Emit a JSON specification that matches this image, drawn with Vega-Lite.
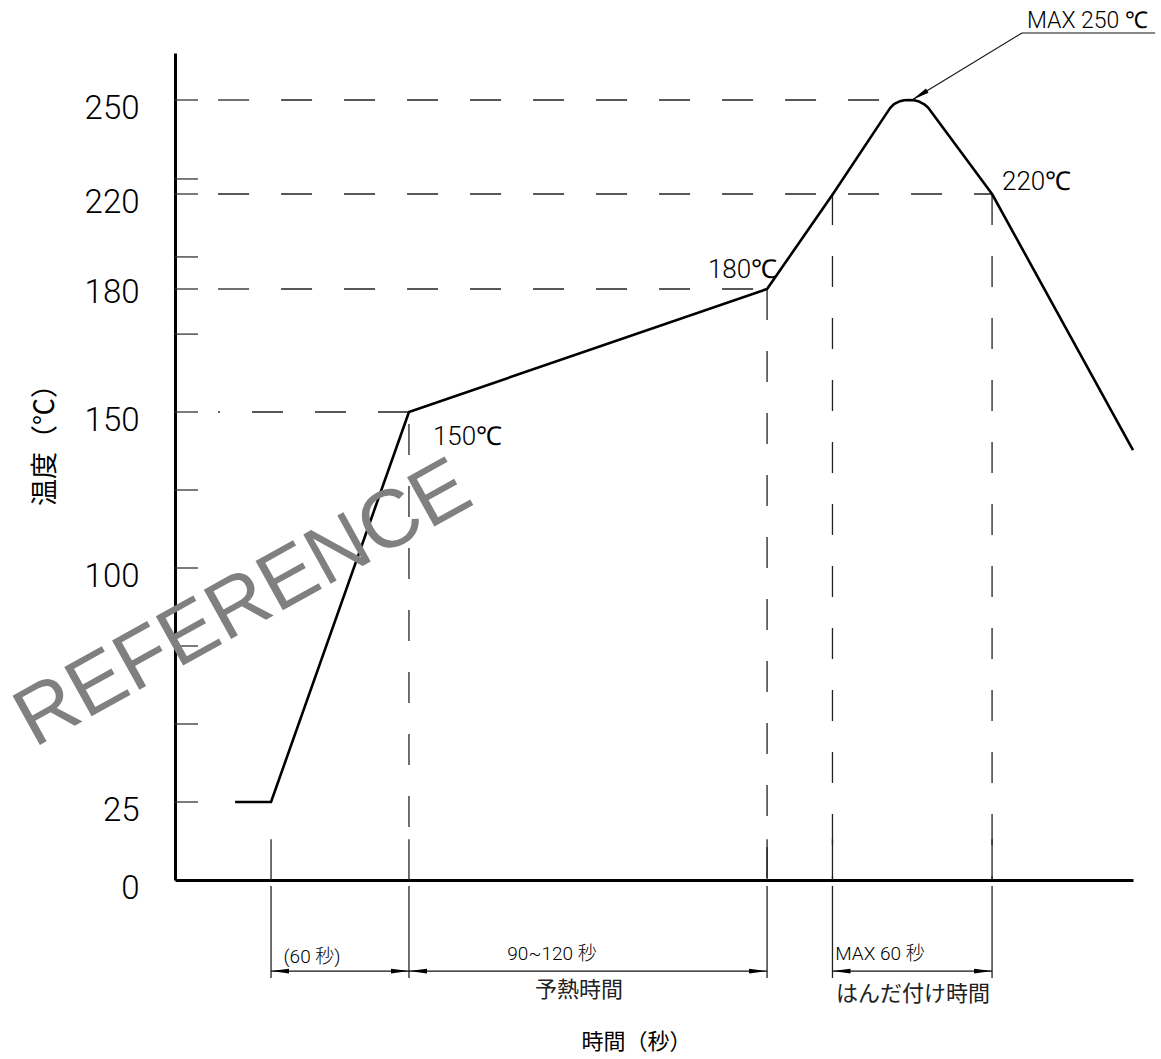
{
  "$schema": "https://vega.github.io/schema/vega-lite/v6.json",
  "autosize": "none",
  "width": 958,
  "height": 827,
  "padding": {"left": 175, "top": 53, "right": 28, "bottom": 179},
  "background": "white",
  "config": {"view": {"stroke": null}},
  "datasets": {
    "profile": [
      {"t": 26.1, "T": 25}, {"t": 41.7, "T": 25}, {"t": 101.6, "T": 150}, {"t": 257.1, "T": 180},
      {"t": 285.7, "T": 220}, {"t": 310.5, "T": 247.4}, {"t": 312.2, "T": 248.7}, {"t": 314.4, "T": 249.5},
      {"t": 316.6, "T": 249.9}, {"t": 318.7, "T": 250}, {"t": 320.9, "T": 249.9}, {"t": 323.1, "T": 249.5},
      {"t": 325.2, "T": 248.7}, {"t": 327.0, "T": 247.6}, {"t": 354.8, "T": 220}, {"t": 416.0, "T": 137.8}
    ],
    "hdash": [
      {"t": 18.7, "t2": 318.7, "T": 250},
      {"t": 18.7, "t2": 354.8, "T": 220},
      {"t": 18.7, "t2": 257.1, "T": 180},
      {"t": 101.6, "t2": 18.7, "T": 150}
    ],
    "vdash": [
      {"t": 101.6, "T": 17.0, "T2": 150},
      {"t": 257.1, "T": 180, "T2": 0},
      {"t": 285.5, "T": 220, "T2": 0},
      {"t": 354.8, "T": 220, "T2": 0}
    ],
    "ext": [
      {"t": 41.7, "T": 13.1, "T2": 0}, {"t": 101.6, "T": 13.1, "T2": 0}, {"t": 257.1, "T": 13.1, "T2": 0},
      {"t": 285.5, "T": 13.1, "T2": 0}, {"t": 354.8, "T": 13.1, "T2": 0},
      {"t": 41.7, "T": -1.9, "T2": -31.4}, {"t": 101.6, "T": -1.9, "T2": -31.4}, {"t": 257.1, "T": -1.9, "T2": -31.4},
      {"t": 285.5, "T": -1.9, "T2": -31.4}, {"t": 354.8, "T": -1.9, "T2": -31.4}
    ],
    "dim": [
      {"t": 41.7, "t2": 101.6, "T": -29.2},
      {"t": 101.6, "t2": 257.1, "T": -29.2},
      {"t": 285.5, "t2": 354.8, "T": -29.2}
    ],
    "arrows": [
      {"t": 41.7, "T": -29.2, "dir": "L"}, {"t": 101.6, "T": -29.2, "dir": "R"},
      {"t": 101.6, "T": -29.2, "dir": "L"}, {"t": 257.1, "T": -29.2, "dir": "R"},
      {"t": 285.5, "T": -29.2, "dir": "L"}, {"t": 354.8, "T": -29.2, "dir": "R"}
    ],
    "minor": [
      {"T": 25, "t": 0, "t2": 10}, {"T": 50, "t": 0, "t2": 10}, {"T": 75, "t": 0, "t2": 10},
      {"T": 100, "t": 0, "t2": 10}, {"T": 125, "t": 0, "t2": 10}, {"T": 150, "t": 0, "t2": 10},
      {"T": 169, "t": 0, "t2": 10}, {"T": 180, "t": 0, "t2": 10}, {"T": 193.5, "t": 0, "t2": 10},
      {"T": 220, "t": 0, "t2": 10}, {"T": 224.8, "t": 0, "t2": 10}, {"T": 250, "t": 0, "t2": 10}
    ],
    "leader": [
      {"t": 367.8, "T": 271.4, "t2": 320.0, "T2": 250.0},
      {"t": 367.8, "T": 271.4, "t2": 425.6, "T2": 271.4}
    ],
    "tempLabels": [
      {"t": 112.0, "T": 139.4, "text": "150℃"},
      {"t": 231.4, "T": 184.6, "text": "180℃"},
      {"t": 359.1, "T": 221.3, "text": "220℃"}
    ],
    "maxLabel": [
      {"t": 422.5, "T": 273.0, "text": "MAX 250 ℃"}
    ],
    "dimLabels": [
      {"t": 59.5, "T": -26.6, "text": "(60 秒)"},
      {"t": 163.7, "T": -25.6, "text": "90~120 秒"},
      {"t": 306.1, "T": -25.6, "text": "MAX 60 秒"}
    ],
    "phaseLabels": [
      {"t": 175.4, "T": -35.3, "text": "予熱時間"},
      {"t": 320.5, "T": -36.5, "text": "はんだ付け時間"}
    ],
    "watermark": [
      {"t": 29.5, "T": 88.5, "text": "REFERENCE"}
    ]
  },
  "encoding": {
    "x": {"field": "t", "type": "quantitative",
      "scale": {"domain": [0, 416], "nice": false, "zero": false},
      "axis": {"title": "時間（秒）", "titleFont": "Noto Sans CJK JP", "titleFontSize": 22, "titleFontWeight": "normal",
        "titleColor": "black", "titleX": 461, "titleY": 161, "titleAlign": "center", "titleBaseline": "middle",
        "domain": true, "domainColor": "black", "domainWidth": 3, "ticks": false, "labels": false, "grid": false}},
    "y": {"field": "T", "type": "quantitative",
      "scale": {"domain": [0, 150, 180, 220, 265], "range": [827, 359, 236, 141, 0], "nice": false, "zero": false},
      "axis": {"title": "温度（℃）", "titleFont": "Noto Sans CJK JP", "titleFontSize": 27, "titleFontWeight": "normal",
        "titleColor": "black", "titleX": -130, "titleY": 385, "titleAngle": 270, "titleAlign": "center", "titleBaseline": "middle",
        "values": [0, 25, 100, 150, 180, 220, 250], "ticks": false, "grid": false,
        "domain": true, "domainColor": "black", "domainWidth": 3,
        "labelFont": "Roboto", "labelFontWeight": 300,
        "labelFontSize": 33, "labelColor": "black", "labelPadding": 36, "labelBaseline": "middle",
        "labelOffset": {"condition": {"test": "datum.value == 180", "value": 3}, "value": 8}}}
  },
  "layer": [
    {"data": {"name": "minor"}, "mark": {"type": "rule", "color": "#333", "strokeWidth": 1.3},
      "encoding": {"x2": {"field": "t2"}}},
    {"data": {"name": "hdash"}, "mark": {"type": "rule", "color": "#222", "strokeWidth": 1.3, "strokeDash": [31, 32]},
      "encoding": {"x2": {"field": "t2"}}},
    {"data": {"name": "vdash"}, "mark": {"type": "rule", "color": "#222", "strokeWidth": 1.3, "strokeDash": [31, 31]},
      "encoding": {"y2": {"field": "T2"}}},
    {"data": {"name": "ext"}, "mark": {"type": "rule", "color": "#222", "strokeWidth": 1.3},
      "encoding": {"y2": {"field": "T2"}}},
    {"data": {"name": "dim"}, "mark": {"type": "rule", "color": "#111", "strokeWidth": 1.2},
      "encoding": {"x2": {"field": "t2"}}},
    {"data": {"name": "arrows"}, "mark": {"type": "point", "filled": true, "color": "black", "size": 324, "opacity": 1},
      "encoding": {"shape": {"field": "dir", "type": "nominal", "legend": null,
        "scale": {"domain": ["L", "R"], "range": ["M0,0L2,-0.27L2,0.27Z", "M0,0L-2,-0.27L-2,0.27Z"]}}}},
    {"data": {"name": "leader"}, "mark": {"type": "rule", "color": "#111", "strokeWidth": 1.1},
      "encoding": {"x2": {"field": "t2"}, "y2": {"field": "T2"}}},
    {"data": {"values": [{"t": 320.0, "T": 250.0}]}, "mark": {"type": "point", "filled": true, "color": "black", "size": 324, "opacity": 1,
      "shape": "M0,0L2,-0.27L2,0.27Z", "angle": 328.4}},
    {"data": {"name": "profile"}, "mark": {"type": "line", "color": "black", "strokeWidth": 2.6, "strokeJoin": "round"}},
    {"data": {"name": "tempLabels"}, "mark": {"type": "text", "align": "left", "baseline": "alphabetic", "color": "black",
      "font": "Roboto", "fontWeight": 300, "fontSize": 26},
      "encoding": {"text": {"field": "text"}}},
    {"data": {"name": "maxLabel"}, "mark": {"type": "text", "align": "right", "baseline": "alphabetic", "color": "black",
      "font": "Roboto", "fontWeight": 300, "fontSize": 23},
      "encoding": {"text": {"field": "text"}}},
    {"data": {"name": "dimLabels"}, "mark": {"type": "text", "align": "center", "baseline": "alphabetic", "color": "black",
      "font": "Roboto, Noto Sans CJK JP", "fontWeight": 300, "fontSize": 19},
      "encoding": {"text": {"field": "text"}}},
    {"data": {"name": "phaseLabels"}, "mark": {"type": "text", "align": "center", "baseline": "middle", "color": "#222",
      "font": "Noto Sans CJK JP", "fontSize": 22},
      "encoding": {"text": {"field": "text"}}},
    {"data": {"name": "watermark"}, "mark": {"type": "text", "align": "center", "baseline": "middle", "color": "#808080",
      "font": "Liberation Sans", "fontSize": 82, "angle": 331},
      "encoding": {"text": {"field": "text"}}}
  ]
}
